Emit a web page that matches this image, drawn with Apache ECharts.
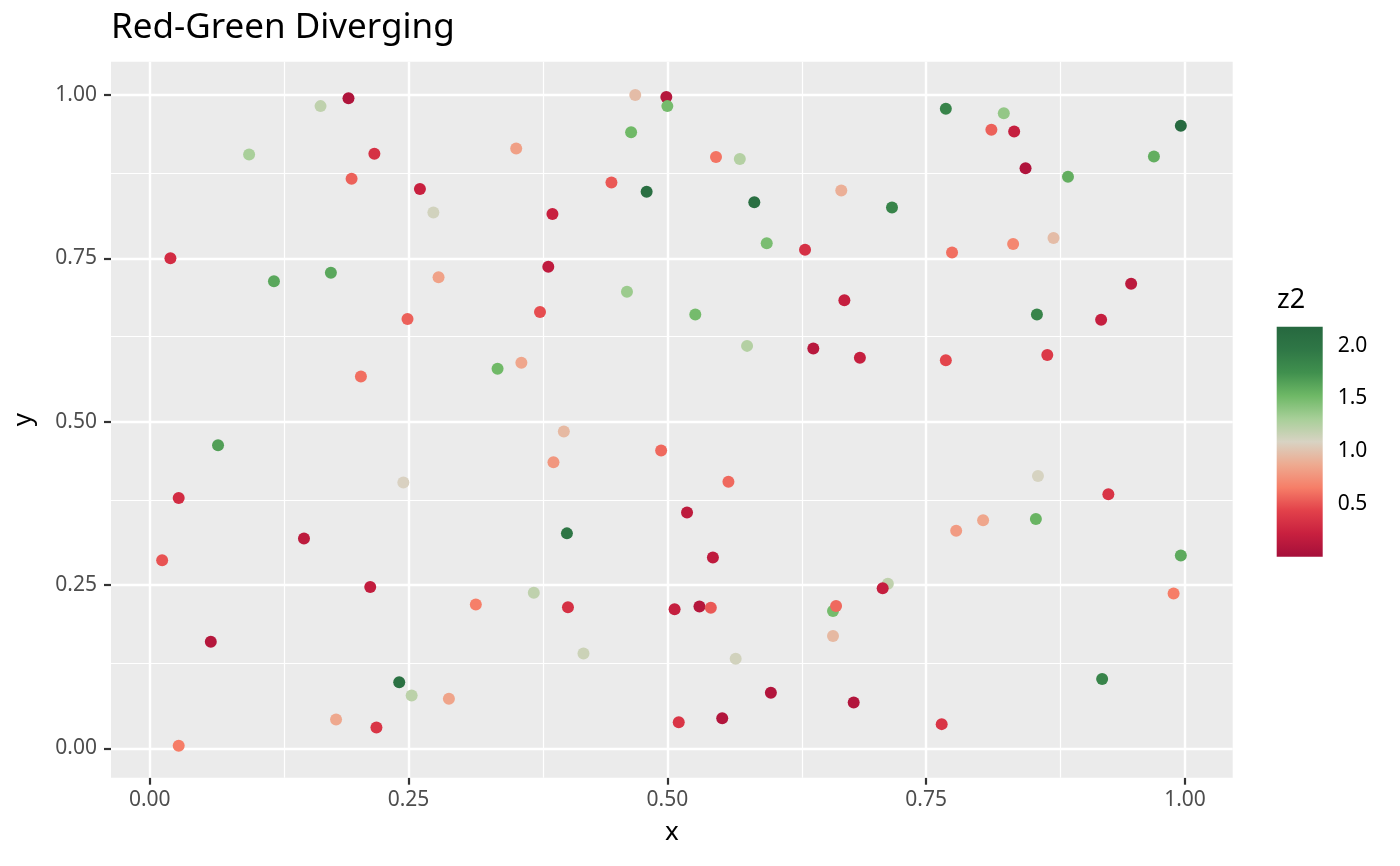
<!DOCTYPE html>
<html>
<head>
<meta charset="utf-8">
<script src="https://cdn.jsdelivr.net/npm/echarts@6/dist/echarts.min.js"></script>
<style>
html,body{margin:0;padding:0;background:#fff;}
#main{width:1400px;height:866px;}
</style>
</head>
<body>
<div id="main"></div>
<script>
//数据
var xs = [0.192,0.165,0.096,0.217,0.195,0.261,0.274,0.020,0.120,0.175,0.279,0.249,0.204,
	0.066,0.028,0.245,0.149,0.012,0.213,0.059,0.241,0.253,0.289,0.180,0.219,0.028,0.315,
	0.469,0.499,0.500,0.465,0.354,0.547,0.570,0.446,0.480,0.584,0.668,0.389,0.596,0.633,
	0.385,0.461,0.377,0.527,0.671,0.577,0.641,0.336,0.359,0.686,
	0.769,0.825,0.813,0.835,0.996,0.970,0.846,0.887,0.717,0.775,0.834,0.873,0.948,0.857,
	0.919,0.769,0.867,
	0.400,0.390,0.494,0.559,0.519,0.403,0.544,0.371,0.404,0.507,0.531,0.542,0.660,0.663,
	0.660,0.419,0.566,0.600,0.680,0.511,0.553,
	0.858,0.926,0.779,0.805,0.856,0.996,0.713,0.708,0.989,0.920,0.765];
var ys = [0.995,0.983,0.909,0.910,0.872,0.856,0.820,0.750,0.715,0.728,0.721,0.657,0.569,
	0.464,0.383,0.407,0.321,0.288,0.247,0.163,0.101,0.081,0.076,0.044,0.032,0.004,0.220,
	1.000,0.997,0.983,0.943,0.918,0.905,0.902,0.866,0.852,0.836,0.854,0.818,0.773,0.763,
	0.737,0.699,0.668,0.664,0.686,0.616,0.612,0.581,0.590,0.598,
	0.979,0.972,0.947,0.944,0.953,0.906,0.888,0.875,0.828,0.759,0.772,0.781,0.711,0.664,
	0.656,0.594,0.602,
	0.485,0.438,0.456,0.408,0.361,0.329,0.292,0.238,0.216,0.213,0.217,0.215,0.210,0.218,
	0.172,0.145,0.137,0.085,0.070,0.040,0.046,
	0.417,0.389,0.333,0.349,0.351,0.295,0.252,0.245,0.237,0.106,0.037];
var zs = [0.06,1.20,1.30,0.33,0.55,0.22,1.12,0.30,1.62,1.62,0.83,0.55,0.60,
	1.66,0.30,1.08,0.15,0.50,0.18,0.10,2.05,1.22,0.84,0.86,0.36,0.65,0.66,
	0.97,0.10,1.50,1.52,0.82,0.62,1.25,0.52,2.08,2.08,0.90,0.22,1.48,0.33,
	0.16,1.35,0.48,1.50,0.20,1.25,0.12,1.52,0.85,0.20,
	1.85,1.38,0.55,0.20,2.15,1.58,0.07,1.58,1.85,0.60,0.70,0.97,0.14,1.85,
	0.20,0.45,0.38,
	0.95,0.78,0.58,0.58,0.15,1.98,0.16,1.20,0.33,0.20,0.10,0.52,1.50,0.58,
	0.95,1.15,1.12,0.08,0.08,0.36,0.08,
	1.10,0.35,0.80,0.85,1.55,1.60,1.20,0.20,0.65,1.85,0.36];

var xTicks = [0, 0.25, 0.5, 0.75, 1];
var xMinor = [0.125, 0.375, 0.625, 0.875];
var yTicks = [0, 0.25, 0.5, 0.75, 1];
var yMinor = [0.125, 0.375, 0.625, 0.875];
var legTicks = [0.5, 1.0, 1.5, 2.0];
var zMin = 0, zMax = 2.18;
//红-米-绿 色阶
var palette = ['#a50f3a','#c8203f','#e2414a','#f67e68','#eeaa90','#d8d3c3',
	'#a7cf98','#6eb866','#40904e','#2f7746','#26683f'];

var FONT = 'Noto Sans';
var pts = xs.map(function (x, i) { return [x, ys[i], zs[i]]; });
var gradStops = palette.map(function (c, i) { return {offset: i / (palette.length - 1), color: c}; });

function gridLines(vals, key, w) {
	return vals.map(function (v) {
		var o = {lineStyle: {width: w}};
		o[key] = v;
		return o;
	});
}

var option = {
	backgroundColor: '#fff',
	animation: false,
	title: [{
		text: 'Red-Green Diverging',
		left: 106,
		top: 6,
		textStyle: {fontFamily: FONT, fontSize: 35, fontWeight: 'normal', color: '#000'}
	}, {
		text: 'z2',
		left: 1272,
		top: 282,
		textStyle: {fontFamily: FONT, fontSize: 27, fontWeight: 'normal', color: '#000'}
	}],
	grid: [{
		left: 111, right: 167.3, top: 61.7, bottom: 88.3,
		show: true, backgroundColor: '#ebebeb', borderWidth: 0
	}, {
		left: 1276.7, top: 326.7, width: 46, height: 230,
		show: false
	}],
	visualMap: {
		type: 'continuous',
		show: false,
		seriesIndex: 0,
		dimension: 2,
		min: zMin,
		max: zMax,
		inRange: {color: palette}
	},
	xAxis: [{
		type: 'value',
		min: -0.0374,
		max: 1.0461,
		name: 'x',
		nameLocation: 'middle',
		nameGap: 42,
		nameTextStyle: {fontFamily: FONT, fontSize: 26, color: '#000'},
		axisLine: {show: false, onZero: false},
		splitLine: {show: false},
		axisTick: {show: true, customValues: xTicks, length: 7, lineStyle: {color: '#333', width: 2.2}},
		axisLabel: {customValues: xTicks, margin: 12, fontFamily: FONT, fontSize: 21, color: '#4d4d4d',
			formatter: function (v) { return v.toFixed(2); }}
	}, {
		gridIndex: 1,
		type: 'category',
		data: [''],
		show: false
	}],
	yAxis: [{
		type: 'value',
		min: -0.045,
		max: 1.051,
		name: 'y',
		nameLocation: 'middle',
		nameGap: 74,
		nameTextStyle: {fontFamily: FONT, fontSize: 26, color: '#000'},
		axisLine: {show: false, onZero: false},
		splitLine: {show: false},
		axisTick: {show: true, customValues: yTicks, length: 7, lineStyle: {color: '#333', width: 2.2}},
		axisLabel: {customValues: yTicks, margin: 14, fontFamily: FONT, fontSize: 21, color: '#4d4d4d',
			formatter: function (v) { return v.toFixed(2); }}
	}, {
		gridIndex: 1,
		type: 'value',
		min: zMin,
		max: zMax,
		position: 'right',
		axisLine: {show: false, onZero: false},
		splitLine: {show: false},
		axisTick: {show: true, inside: true, customValues: legTicks, length: 9, lineStyle: {color: '#fff', width: 1.5}},
		axisLabel: {customValues: legTicks, margin: 15, fontFamily: FONT, fontSize: 21, color: '#000',
			formatter: function (v) { return v.toFixed(1); }}
	}, {
		gridIndex: 1,
		type: 'value',
		min: zMin,
		max: zMax,
		position: 'left',
		axisLine: {show: false, onZero: false},
		splitLine: {show: false},
		axisTick: {show: true, inside: true, customValues: legTicks, length: 9, lineStyle: {color: '#fff', width: 1.5}},
		axisLabel: {show: false}
	}],
	series: [{
		type: 'scatter',
		data: pts,
		symbolSize: 12,
		z: 5,
		itemStyle: {opacity: 1}
	}, {
		//网格线
		type: 'scatter',
		data: [],
		silent: true,
		z: 1,
		markLine: {
			silent: true,
			symbol: ['none', 'none'],
			label: {show: false},
			lineStyle: {color: '#fff', type: 'solid'},
			data: gridLines(xMinor, 'xAxis', 1.2)
				.concat(gridLines(yMinor, 'yAxis', 1.2))
				.concat(gridLines(xTicks, 'xAxis', 2.4))
				.concat(gridLines(yTicks, 'yAxis', 2.4))
		}
	}, {
		//色条
		type: 'bar',
		xAxisIndex: 1,
		yAxisIndex: 1,
		data: [zMax],
		barWidth: '100%',
		silent: true,
		itemStyle: {color: new echarts.graphic.LinearGradient(0, 1, 0, 0, gradStops)}
	}]
};
echarts.init(document.getElementById('main')).setOption(option);
</script>
</body>
</html>
